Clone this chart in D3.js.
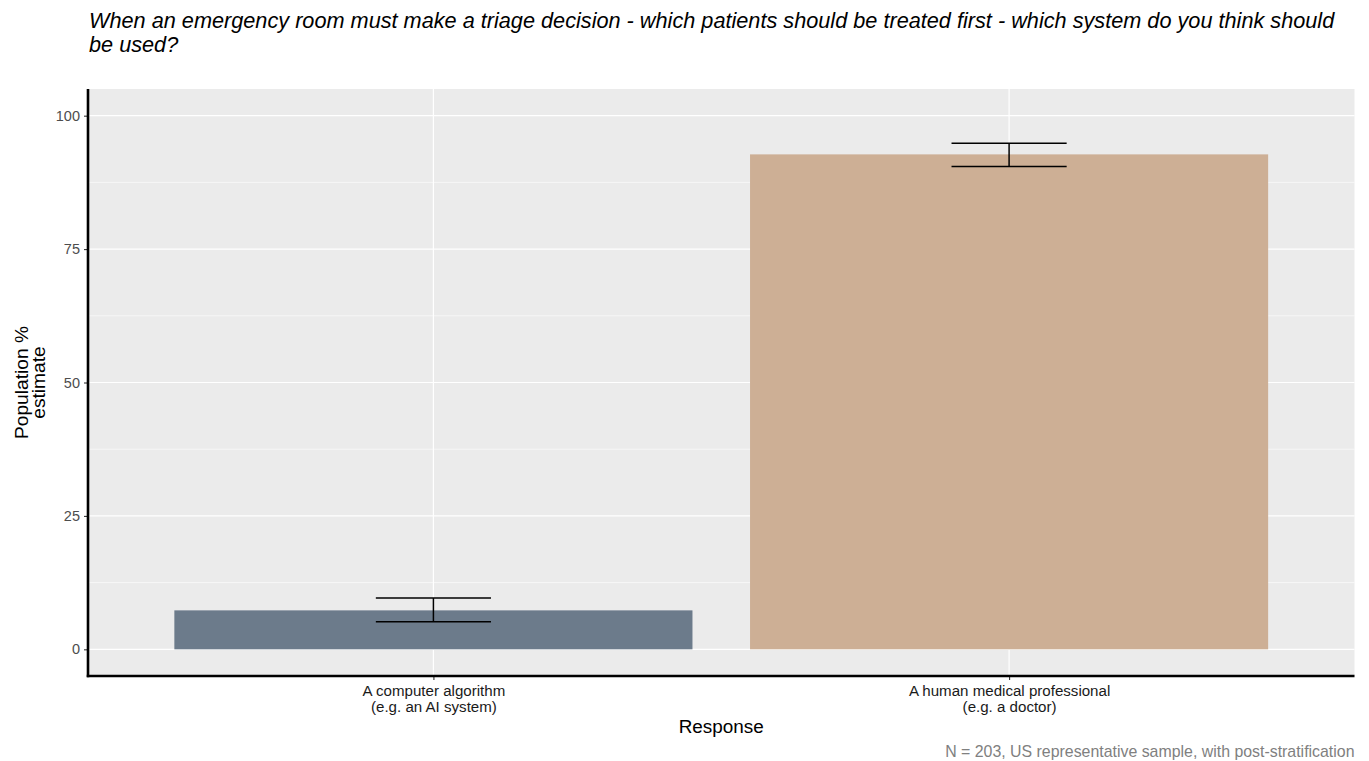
<!DOCTYPE html>
<html>
<head>
<meta charset="utf-8">
<script src="https://cdn.jsdelivr.net/npm/d3@7"></script>
<style>
  html, body { margin: 0; padding: 0; background: #ffffff; }
  svg { display: block; font-family: "Liberation Sans", Arial, sans-serif; }
</style>
</head>
<body>
<svg id="chart" width="1369" height="761"></svg>
<script>
// Survey responses: population % estimate with confidence interval
const categories = ["A computer algorithm\n(e.g. an AI system)", "A human medical professional\n(e.g. a doctor)"];
const estimates = [7.3, 92.75];
const lowerCI = [5.15, 90.5];
const upperCI = [9.6, 94.85];
const barColors = ["#6C7B8B", "#CDAF95"];
const yTicks = [0, 25, 50, 75, 100];
const yMinor = [12.5, 37.5, 62.5, 87.5];

const titleLines = [
  "When an emergency room must make a triage decision - which patients should be treated first - which system do you think should",
  "be used?"
];
const yLabelLines = ["Population %", "estimate"];
const xLabel = "Response";
const caption = "N = 203, US representative sample, with post-stratification";

const svg = d3.select("#chart");
const panel = { left: 88, right: 1354.5, top: 89, bottom: 676 };

const x = d3.scalePoint()
  .domain(categories)
  .range([panel.left, panel.right])
  .padding(0.6);
const step = x.step();
const barW = step * 0.9;
const capW = step * 0.2;

const y = d3.scaleLinear()
  .domain([-5, 105])
  .range([panel.bottom, panel.top]);

// panel background
svg.append("rect")
  .attr("x", panel.left).attr("y", panel.top)
  .attr("width", panel.right - panel.left)
  .attr("height", panel.bottom - panel.top)
  .attr("fill", "#EBEBEB");

// grid lines
const grid = svg.append("g");
grid.selectAll("line.minor").data(yMinor).join("line")
  .attr("x1", panel.left).attr("x2", panel.right)
  .attr("y1", d => y(d)).attr("y2", d => y(d))
  .attr("stroke", "#ffffff").attr("stroke-width", 0.6);
grid.selectAll("line.major").data(yTicks).join("line")
  .attr("x1", panel.left).attr("x2", panel.right)
  .attr("y1", d => y(d)).attr("y2", d => y(d))
  .attr("stroke", "#ffffff").attr("stroke-width", 1.2);
grid.selectAll("line.vmajor").data(categories).join("line")
  .attr("x1", d => x(d)).attr("x2", d => x(d))
  .attr("y1", panel.top).attr("y2", panel.bottom)
  .attr("stroke", "#ffffff").attr("stroke-width", 1.2);

// bars
svg.append("g").selectAll("rect").data(categories).join("rect")
  .attr("x", d => x(d) - barW / 2)
  .attr("width", barW)
  .attr("y", (d, i) => y(estimates[i]))
  .attr("height", (d, i) => y(0) - y(estimates[i]))
  .attr("fill", (d, i) => barColors[i]);

// error bars
const eb = svg.append("g").attr("stroke", "#000000").attr("stroke-width", 1.5).attr("fill", "none");
categories.forEach((c, i) => {
  const cx = x(c);
  eb.append("line").attr("x1", cx).attr("x2", cx).attr("y1", y(lowerCI[i])).attr("y2", y(upperCI[i]));
  eb.append("line").attr("x1", cx - capW / 2).attr("x2", cx + capW / 2).attr("y1", y(lowerCI[i])).attr("y2", y(lowerCI[i]));
  eb.append("line").attr("x1", cx - capW / 2).attr("x2", cx + capW / 2).attr("y1", y(upperCI[i])).attr("y2", y(upperCI[i]));
});

// y axis
const yAxis = svg.append("g")
  .attr("transform", `translate(${panel.left},0)`)
  .call(d3.axisLeft(y).tickValues(yTicks).tickSize(4).tickPadding(4).tickFormat(d3.format("d")));
yAxis.select(".domain").remove();
yAxis.selectAll(".tick line").attr("stroke", "#333333").attr("stroke-width", 1.1);
yAxis.selectAll(".tick text")
  .attr("fill", "#4D4D4D").attr("font-size", "14.5px")
  .attr("font-family", "Liberation Sans, Arial, sans-serif");

// x axis
const xAxis = svg.append("g")
  .attr("transform", `translate(0,${panel.bottom})`)
  .call(d3.axisBottom(x).tickSize(4).tickFormat(""));
xAxis.select(".domain").remove();
xAxis.selectAll(".tick line").attr("stroke", "#333333").attr("stroke-width", 1.1);
xAxis.selectAll(".tick").each(function (d) {
  const t = d3.select(this).append("text")
    .attr("text-anchor", "middle")
    .attr("fill", "#1a1a1a")
    .attr("font-size", "15.1px");
  d.split("\n").forEach((line, j) => {
    t.append("tspan").attr("x", 0).attr("y", 20 + j * 15.6).text(line);
  });
});

// axis lines
svg.append("line")
  .attr("x1", panel.left).attr("x2", panel.left)
  .attr("y1", panel.top).attr("y2", panel.bottom + 1.25)
  .attr("stroke", "#000000").attr("stroke-width", 2.6);
svg.append("line")
  .attr("x1", panel.left - 1.25).attr("x2", panel.right)
  .attr("y1", panel.bottom).attr("y2", panel.bottom)
  .attr("stroke", "#000000").attr("stroke-width", 2.6);

// title
const title = svg.append("text")
  .attr("font-style", "italic").attr("font-size", "21.7px").attr("fill", "#000000");
titleLines.forEach((line, j) => {
  title.append("tspan").attr("x", 89).attr("y", 28 + j * 24).text(line);
});

// axis titles
svg.append("text")
  .attr("x", (panel.left + panel.right) / 2).attr("y", 733)
  .attr("text-anchor", "middle").attr("font-size", "18.9px").attr("fill", "#000000")
  .text(xLabel);

const yl = svg.append("text")
  .attr("transform", `translate(0,${(panel.top + panel.bottom) / 2}) rotate(-90)`)
  .attr("text-anchor", "middle").attr("font-size", "19.2px").attr("fill", "#000000");
yLabelLines.forEach((line, j) => {
  yl.append("tspan").attr("x", 0).attr("y", 28 + j * 17).text(line);
});

// caption
svg.append("text")
  .attr("x", panel.right).attr("y", 757)
  .attr("text-anchor", "end").attr("font-size", "15.9px").attr("fill", "#808080")
  .text(caption);
</script>
</body>
</html>
